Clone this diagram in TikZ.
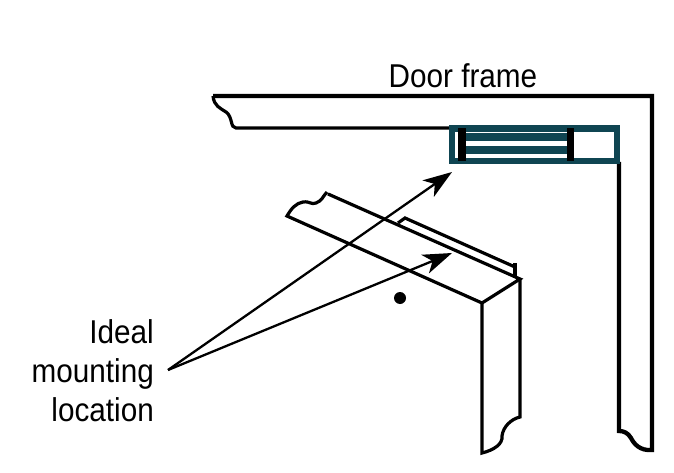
\documentclass[tikz,border=0pt]{standalone}
\usepackage{fontspec}
\setmainfont[FakeStretch=0.9]{Liberation Sans}
\usetikzlibrary{arrows.meta}
\definecolor{magteal}{HTML}{0F4552}
\tikzset{
  edge/.style={draw,line width=4.3pt,line join=miter},
  thinedge/.style={draw,line width=3.2pt},
  post/.style={-{Stealth[length=29pt,width=20pt,inset=8pt]},line width=2.3pt,shorten >=0pt},
  caption/.style={inner sep=0,font=\fontsize{33}{39}\selectfont}
}
\begin{document}
\begin{tikzpicture}[x=1pt,y=-1pt]
    \useasboundingbox (0,0) rectangle (674,473);

    \node[caption] (frameLabel) at (463,76) {Door frame};
    \node[caption,align=right,anchor=east] (mountLabel) at (154,371) {Ideal\\mounting\\location};

    \coordinate (src) at (168,370);
    \coordinate (magTip) at (452,172);
    \coordinate (plateTip) at (452,253);

    % door frame
    \draw[edge] (213,96) -- (652,96) -- (652,450) .. controls (640,451) and (634,444) .. (631,438) .. controls (628,433) and (624,431) .. (619,431) -- (619,162);
    \draw[thinedge] (213,96) .. controls (214,106) and (220,108) .. (226,112) .. controls (233,117) and (230,128) .. (236,128) -- (450,128);

    % magnet
    \fill[magteal] (466,133) rectangle (568,141);
    \fill[magteal] (466,146) rectangle (568,154);
    \draw[magteal,line width=6.4pt] (452,128.5) rectangle (617,161);
    \fill[black] (458,128) rectangle (466,161);
    \fill[black] (567,128) rectangle (574,161);

    % door
    \draw[thinedge] (328,194) -- (520,279) -- (482,303) -- (287,216) .. controls (291,209) and (296,203) .. (303,202) .. controls (310,201) and (311,205) .. (316,203) .. controls (322,201) and (323,196) .. (327,192);
    \draw[thinedge] (482,303) -- (482,453) .. controls (494,450) and (503,444) .. (502,436) .. controls (503,427) and (511,419) .. (520,417) -- (520,279);
    \draw[thinedge] (398,223) -- (405,218) -- (515,267);
    \fill[black] (513,263) rectangle (517,278);
    \fill[black] (400,298) circle (6);

    % pointers
    \draw[post] (src) -- (magTip);
    \draw[post] (src) -- (plateTip);
\end{tikzpicture}
\end{document}
